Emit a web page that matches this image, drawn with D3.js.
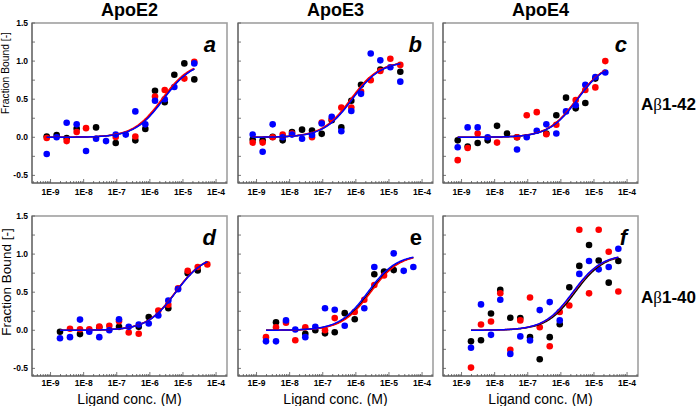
<!DOCTYPE html>
<html><head><meta charset="utf-8">
<script src="https://cdn.jsdelivr.net/npm/d3@7"></script>
<style>
body{margin:0;background:#fff}
svg{display:block}
text{font-family: Arial, "Liberation Sans", sans-serif}
</style>
</head><body>
<svg id="chart" width="700" height="406"></svg>
<script>
// ---------- data ----------
const columnTitles = ["ApoE2", "ApoE3", "ApoE4"];
const rowTitles = ["1-42", "1-40"];
const panelLetters = ["a", "b", "c", "d", "e", "f"];
const xTickValues = [1e-9, 1e-8, 1e-7, 1e-6, 1e-5, 1e-4];
const xTickLabels = ["1E-9", "1E-8", "1E-7", "1E-6", "1E-5", "1E-4"];
const yTickValues = [-0.5, 0.0, 0.5, 1.0, 1.5];
const yTickLabels = ["-0.5", "0.0", "0.5", "1.0", "1.5"];
const seriesColors = ["#000000", "#ff0000", "#0000ff"]; // black, red, blue replicates

// ligand concentrations (M)
const concRow1 = [7.66e-10, 1.53e-9, 3.07e-9, 6.16e-9, 1.18e-8, 2.37e-8, 4.74e-8, 9.31e-8,
                  1.87e-7, 3.64e-7, 7.29e-7, 1.43e-6, 2.81e-6, 5.48e-6, 1.10e-5, 2.20e-5];
const concRow2 = [1.93e-9, 3.87e-9, 7.76e-9, 1.48e-8, 2.97e-8, 5.96e-8, 1.17e-7, 2.30e-7,
                  4.61e-7, 9.25e-7, 1.80e-6, 3.61e-6, 7.10e-6, 1.39e-5, 2.79e-5, 5.45e-5];

// fraction bound, per panel: black, red, blue
const aBlack = [0.01, 0.03, -0.01, 0.115, null, 0.13, null, -0.075, null, -0.04, 0.11, 0.61, 0.46, 0.82, 0.97, 0.76];
const aRed   = [-0.01, null, -0.05, 0.07, 0.12, null, null, 0.005, null, 0.01, null, 0.535, 0.62, null, 0.77, 0.99];
const aBlue  = [-0.22, 0.0, 0.19, 0.17, -0.18, -0.02, -0.05, 0.035, 0.035, 0.34, 0.17, 0.48, 0.50, 0.66, null, 0.97];

const bBlack = [-0.03, -0.04, 0.005, -0.04, 0.07, 0.10, 0.09, 0.045, 0.225, 0.13, 0.48, 0.69, null, 0.89, null, 0.86];
const bRed   = [-0.07, -0.07, 0.0, 0.035, 0.05, null, 0.0, 0.195, 0.24, 0.39, 0.39, 0.60, 0.75, 0.87, 1.03, 0.95];
const bBlue  = [0.035, -0.19, 0.17, 0.0, 0.035, -0.02, 0.03, 0.18, 0.27, 0.08, 0.345, 0.57, 1.10, 1.01, 0.92, 0.73];

const cBlack = [-0.04, -0.12, -0.075, -0.04, 0.15, 0.05, 0.0, null, null, 0.05, 0.29, 0.52, 0.38, 0.45, 0.77, null];
const cRed   = [-0.30, -0.14, 0.05, null, -0.07, null, 0.0, 0.29, 0.33, 0.04, 0.165, null, 0.49, 0.62, 0.655, 1.0];
const cBlue  = [-0.13, 0.13, 0.13, 0.0, null, null, -0.16, 0.0, 0.085, 0.17, 0.05, 0.34, 0.42, 0.69, 0.79, 0.85];

const dBlack = [-0.02, null, -0.05, null, 0.04, null, 0.045, null, 0.045, 0.175, null, 0.29, null, 0.75, 0.785, null];
const dRed   = [null, 0.02, 0.013, 0.013, 0.05, 0.06, 0.12, -0.03, -0.045, null, 0.26, 0.335, 0.55, 0.78, 0.83, 0.865];
const dBlue  = [-0.105, -0.09, 0.14, -0.02, -0.09, 0.0, 0.145, 0.045, 0.075, 0.09, 0.195, 0.39, 0.54, null, null, null];

const eBlack = [null, 0.105, null, null, -0.045, 0.0, -0.04, -0.025, 0.225, 0.145, null, 0.735, 0.77, 0.79, null, null];
const eRed   = [-0.09, 0.04, 0.10, -0.13, 0.04, null, 0.0, 0.16, null, 0.24, 0.40, 0.595, 0.72, null, null, null];
const eBlue  = [-0.145, -0.145, 0.13, 0.01, -0.09, 0.045, 0.29, 0.27, 0.06, null, 0.29, 0.83, null, 1.01, 0.78, 0.83];

const fBlack = [-0.145, -0.13, 0.22, 0.53, 0.165, 0.16, -0.09, -0.38, -0.09, 0.08, 0.565, 0.845, 1.12, 0.915, 0.625, 0.91];
const fRed   = [-0.49, 0.075, 0.115, 0.485, -0.255, 0.13, 0.43, 0.04, -0.21, 0.24, 0.325, 1.32, 0.485, 1.32, 1.03, 0.51];
const fBlue  = [-0.23, 0.34, -0.06, 0.40, -0.31, -0.08, -0.135, 0.265, 0.37, 0.13, null, 0.74, 0.91, 0.80, 0.83, 1.07];

// fitted Kd (M) for each panel: black, red, blue
const kdA = [2.5e-6, 2.3e-6, 2.6e-6];
const kdB = [7.5e-7, 7.0e-7, 7.8e-7];
const kdC = [3.1e-6, 3.0e-6, 3.2e-6];
const kdD = [6.0e-6, 5.9e-6, 6.1e-6];
const kdE = [2.6e-6, 2.8e-6, 2.3e-6];
const kdF = [2.7e-6, 2.4e-6, 2.3e-6];

// ---------- assemble ----------
const panels = [
  {conc: concRow1, series: [aBlack, aRed, aBlue], kd: kdA},
  {conc: concRow1, series: [bBlack, bRed, bBlue], kd: kdB},
  {conc: concRow1, series: [cBlack, cRed, cBlue], kd: kdC},
  {conc: concRow2, series: [dBlack, dRed, dBlue], kd: kdD},
  {conc: concRow2, series: [eBlack, eRed, eBlue], kd: kdE},
  {conc: concRow2, series: [fBlack, fRed, fBlue], kd: kdF}
];

const svg = d3.select("#chart");
const colLeft = [32, 238, 443];
const rowTop = [23, 216];
const W = 195, H = 160;
const xDomain = [Math.pow(10, -9.56), Math.pow(10, -3.67)];
const yDomain = [-0.6, 1.5];
const tickLabelOffset = [12, 9.5];

// column titles
columnTitles.forEach((t, i) => {
  svg.append("text").attr("x", colLeft[i] + W / 2).attr("y", 16)
    .attr("text-anchor", "middle").attr("font-size", 18).attr("font-weight", "bold").text(t);
});
// row titles
rowTitles.forEach((t, i) => {
  const tx = svg.append("text").attr("x", 641).attr("y", rowTop[i] + 87)
    .attr("font-size", 17).attr("font-weight", "bold");
  tx.append("tspan").text("A");
  tx.append("tspan").attr("font-family", "'Liberation Serif', 'DejaVu Serif', serif").attr("font-weight", "normal").text("\u03B2");
  tx.append("tspan").text(t);
});

panels.forEach((p, i) => {
  const row = Math.floor(i / 3), col = i % 3;
  const L = colLeft[col], T = rowTop[row];
  const x = d3.scaleLog().domain(xDomain).range([L, L + W]);
  const y = d3.scaleLinear().domain(yDomain).range([T + H, T]);
  const g = svg.append("g");

  // frame
  g.append("rect").attr("x", L).attr("y", T).attr("width", W).attr("height", H)
    .attr("fill", "none").attr("stroke", "#a0a0a0").attr("stroke-width", 1.6);
  g.append("line").attr("x1", L).attr("x2", L).attr("y1", T).attr("y2", T + H).attr("stroke", "#555").attr("stroke-width", 1);
  g.append("line").attr("x1", L).attr("x2", L + W).attr("y1", T + H).attr("y2", T + H).attr("stroke", "#555").attr("stroke-width", 1);

  // x minor ticks
  const minor = [];
  for (let e = -10; e <= -4; e++) for (let k = 2; k <= 9; k++) {
    const v = k * Math.pow(10, e);
    if (v > xDomain[0] && v < xDomain[1]) minor.push(v);
  }
  g.selectAll(".xm").data(minor).enter().append("line")
    .attr("x1", d => x(d)).attr("x2", d => x(d)).attr("y1", T + H).attr("y2", T + H - 2)
    .attr("stroke", "#555").attr("stroke-width", 0.8);
  g.selectAll(".xM").data(xTickValues).enter().append("line")
    .attr("x1", d => x(d)).attr("x2", d => x(d)).attr("y1", T + H).attr("y2", T + H - 4)
    .attr("stroke", "#555").attr("stroke-width", 0.8);
  g.selectAll(".xl").data(xTickValues).enter().append("text")
    .attr("x", d => x(d)).attr("y", T + H + tickLabelOffset[row]).attr("text-anchor", "middle")
    .attr("font-size", 8.5).attr("font-weight", "bold").text((d, j) => xTickLabels[j]);

  // y ticks (every 0.25)
  const yt = d3.range(-0.5, 1.51, 0.25);
  g.selectAll(".yt").data(yt).enter().append("line")
    .attr("x1", L).attr("x2", L + 3).attr("y1", d => y(d)).attr("y2", d => y(d))
    .attr("stroke", "#555").attr("stroke-width", 0.8);
  if (col === 0) {
    g.selectAll(".yl").data(yTickValues).enter().append("text")
      .attr("x", L - 4).attr("y", d => y(d) + 3).attr("text-anchor", "end")
      .attr("font-size", 8.5).attr("font-weight", "bold").text((d, j) => yTickLabels[j]);
  }

  // dots
  p.series.forEach((s, si) => {
    g.selectAll(".dot" + si).data(s.map((v, k) => ({c: p.conc[k], v})).filter(d => d.v !== null))
      .enter().append("circle")
      .attr("cx", d => x(d.c)).attr("cy", d => y(d.v)).attr("r", 3.3)
      .attr("fill", seriesColors[si]);
  });

  // fitted curves
  const c0 = Math.log10(p.conc[0]), c1 = Math.log10(p.conc[p.conc.length - 1]);
  const grid = d3.range(0, 121).map(k => Math.pow(10, c0 + (c1 - c0) * k / 120));
  const line = d3.line().x(d => x(d[0])).y(d => y(d[1]));
  p.kd.forEach((kd, si) => {
    g.append("path").datum(grid.map(c => [c, c / (c + kd)]))
      .attr("d", line).attr("fill", "none").attr("stroke", seriesColors[si]).attr("stroke-width", 1.5);
  });

  // panel letter
  g.append("text").attr("x", L + W - 11).attr("y", T + 29).attr("text-anchor", "end")
    .attr("font-size", 22).attr("font-weight", "bold")
    .attr("font-style", panelLetters[i] === "e" ? "normal" : "italic")
    .text(panelLetters[i]);

  // x axis title (bottom row)
  if (row === 1) {
    svg.append("text").attr("x", L + W / 2).attr("y", 404).attr("text-anchor", "middle")
      .attr("font-size", 14).text("Ligand conc. (M)");
  }
});

// y axis titles
svg.append("text").attr("transform", "translate(9,73) rotate(-90)").attr("text-anchor", "middle")
  .attr("font-size", 10.3).text("Fraction Bound [-]");
svg.append("text").attr("transform", "translate(11,282) rotate(-90)").attr("text-anchor", "middle")
  .attr("font-size", 13.5).text("Fraction Bound [-]");
</script>
</body></html>
